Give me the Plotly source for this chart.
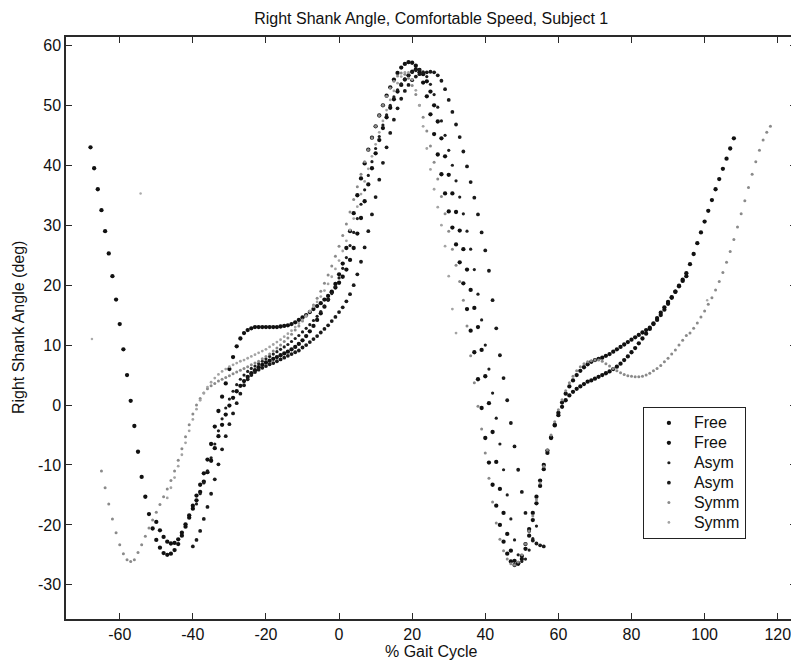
import plotly.graph_objects as go

# ---- data (x = % gait cycle, sampled every 1 %; y = right shank angle, deg) ----
FREE1_X0 = -68
FREE1_Y = [43, 39.5, 36, 32.5, 29, 25.3, 21.5, 17.6, 13.5, 9.3, 5, 0.7, -3.5, -7.8, -12, -15.3, -18.2, -20.6,
           -22.5, -23.8, -24.7, -25, -24.8, -24.2, -23.2,
           -21.8, -20.3, -18.8, -17.3, -15.9, -14.5, -12.8, -11.2, -9.3, -7.2, -5.2, -3.3, -1.6, -0.1, 1.2, 2.3,
           3.2, 4, 4.7, 5.3, 5.8, 6.3, 6.7,
           7.1, 7.4, 7.7, 8, 8.3, 8.6, 8.9, 9.3, 9.7, 10.2, 10.8, 11.5, 12.3, 13.2, 14.2, 15.3, 16.4, 17.6, 18.8,
           20.2, 21.8, 23.6, 26.2, 29, 32, 35, 37.8, 40.3, 42.6, 44.6, 46.5, 48.3, 50, 51.6, 53, 54.3, 55.4, 56.3,
           56.9, 57.2,
           57.1, 56.6, 55.5, 53.8, 51.5, 48.5, 45.2, 41.8, 38.5, 35.3, 32.3, 29.6, 26.8, 23.8, 20.3, 16, 12.4, 8.8,
           4.3, -0.5, -5.5, -9.6, -13.3, -16.8, -20, -22.8, -24.8, -26.1, -26.7, -26.4,
           -25.2, -23.2, -20.7, -18, -15.3, -12.6, -10, -7.6, -5.4, -3.4, -1.7, -0.3, 0.8, 1.6, 2.2, 2.7, 3.1, 3.5,
           3.9, 4.1, 4.4, 4.7, 5, 5.3, 5.6, 6, 6.4, 6.9, 7.5, 8.1, 8.8, 9.5, 10.3, 11.1, 11.9, 12.7, 13.6, 14.5,
           15.4, 16.3, 17.2, 18, 18.9, 19.8, 20.7, 21.5]

FREE2_X0 = -50
FREE2_Y = [-19.5, -20.9, -22, -22.8, -23.1, -23, -22.4, -21.3, -19.9, -18.4, -16.8, -15.1, -13.3, -11.4, -9.1,
           -6.5, -3.6, -1, 1.4, 3.6, 6, 8, 9.8, 11.1, 12, 12.5, 12.8, 13, 13, 13, 13, 13, 13, 13, 13.1, 13.2, 13.3,
           13.5, 13.8,
           14.2, 14.6, 15, 15.5, 16, 16.5, 17, 17.6, 18.2, 18.9, 19.6, 20.4, 21.4, 22.6, 24.2, 26.2, 28.6, 31.2,
           34, 36.8, 39.5, 42, 44.2, 46.2, 48, 49.6, 51, 52.3, 53.4, 54.3, 55, 55.6, 56, 55.9,
           55.2, 54, 52.3, 50, 47.3, 44.5, 41.5, 38.4, 35.3, 32.2, 29.1, 26, 22.6, 19.2, 16.2, 13, 9.2, 4.8, 0.3,
           -4.5, -9.5, -14, -18, -21.5, -24.3, -26, -26.5, -25.7,
           -24, -21.8, -19.2, -16.4, -13.5, -10.7, -8, -5.5, -3.3, -1.3, 0.4, 1.9, 3.1, 4.1, 5, 5.7, 6.3, 6.8, 7.2,
           7.5, 7.7, 7.9, 8.2, 8.5, 8.9, 9.3, 9.7, 10.1, 10.5, 10.9, 11.3, 11.7, 12.1, 12.5, 12.9, 13.5, 14.2, 15,
           15.9, 16.9, 17.9, 18.9, 19.9, 20.9, 22, 23.5, 25.2, 27, 28.8, 30.6, 32.4, 34.2, 36, 37.7, 39.4, 41.1,
           42.8, 44.5]

ASYM1_X0 = -39
ASYM1_Y = [-16.5, -14.8, -13, -11, -8.8, -6.5, -4.3, -2.3, -0.5, 1, 2.3, 3.4, 4.3, 5, 5.6, 6.1, 6.5, 6.9, 7.3,
           7.7, 8.1, 8.5, 8.9, 9.3, 9.7, 10.1, 10.6, 11.1, 11.6, 12.2, 12.8, 13.4, 14.1, 14.8, 15.6, 16.5, 17.5,
           18.6, 19.8, 21.2, 22.8, 24.6, 26.6, 28.8, 31.1, 33.5, 35.9, 38.3, 40.6, 42.8, 44.8, 46.7, 48.4, 50,
           51.4, 52.6, 53.6, 54.4, 55, 55.5, 55.8, 55.9, 55.6, 54.8, 53.5, 51.8, 49.7, 47.4, 45, 42.5, 40, 37.4,
           34.7, 31.9, 29, 26, 22.6, 18.5, 14.2, 10, 6, 2, -2.2, -6.5, -10.8, -15, -19, -22.5, -25, -26.1, -25.7,
           -24.2, -22.3, -20.2]

ASYM2_X0 = -40
ASYM2_Y = [-23.6, -22.5, -21, -19, -17, -14.8, -12.4, -9.9, -7.4, -5.2, -3.2, -1.4, 0.3, 1.9, 3.3, 4.3, 5, 5.5,
           5.9, 6.2, 6.5, 6.8, 7, 7.3, 7.6, 7.9, 8.2, 8.5, 8.8, 9.1, 9.6, 10, 10.5, 11, 11.5, 12.1, 12.7, 13.3,
           14, 14.7, 15.5, 16.3, 17.3, 18.5, 20, 21.8, 23.9, 26.3, 29, 31.8, 34.7, 37.6, 40.4, 43, 45.4, 47.6,
           49.5, 51.1, 52.4, 53.4, 54.2, 54.8, 55.2, 55.4, 55.5, 55.6, 55.5, 55, 54.1, 52.7, 50.9, 48.9, 46.8,
           44.7, 42.3, 39.8, 37.2, 34.6, 31.8, 28.8, 25.8, 22.4, 17.5, 12.8, 8.3, 4.5, 0.8, -3, -6.9, -10.8,
           -14.5, -18, -21, -22.6, -23.1, -23.4, -23.6]

SYMM1_X0 = -65
SYMM1_Y = [-11, -13.8, -16.5, -19, -21.3, -23.3, -24.8, -25.8, -26.1, -25.8, -24.6, -23.3, -21.9, -20.5, -19.2,
           -17.9, -16.6, -15.3, -14, -12.6, -11, -9.2, -7.3, -5.3, -3.3, -1.5, 0, 1.1, 2, 2.7, 3.2, 3.6, 4, 4.3,
           4.6, 4.9, 5.2, 5.5, 5.8, 6.1, 6.4, 6.7, 7, 7.3, 7.7, 8.1, 8.5, 9, 9.5, 10, 10.6, 11.2, 11.8, 12.5, 13.2,
           14, 14.8, 15.7, 16.7, 17.8, 19, 20.3, 21.7, 23.2, 24.8, 26.5, 28.3, 30.2, 32.2, 34.3, 36.4, 38.5, 40.6,
           42.6, 44.6, 46.5, 48.3, 50, 51.5, 52.9, 54, 54.9, 55.4, 55.2, 54.5, 53.3, 51.8, 50, 48, 45.7, 43.2,
           40.5, 37.7, 34.8, 31.9, 29, 26, 23.3, 20.6, 17.5, 13.2, 8.2, 3.7, -0.2, -4, -8, -12.2, -16.2, -19.7,
           -22.4, -24.3, -25.7, -26.5, -26.7, -26.2, -25, -23.2, -21, -18.5, -15.8, -13, -10.2, -7.5, -5, -2.8,
           -0.8, 0.9, 2.4, 3.7, 4.8, 5.7, 6.4, 6.9, 7.2, 7.4, 7.5, 7.5, 7.3, 6.9, 6.5, 6.1, 5.7, 5.4, 5.1, 4.9,
           4.8, 4.7, 4.7, 4.8, 5, 5.3, 5.7, 6.1, 6.6, 7.2, 7.8, 8.5, 9.2, 10, 10.8, 11.6, 12, 12.8, 13.7, 14.7,
           15.7, 16.8, 17.9, 19.2, 20.6, 22.1, 23.8, 25.6, 27.6, 29.7, 31.9, 34.1, 36.3, 38.5, 40.6, 42.5, 44.2,
           45.5, 46.5]

SYMM2_X0 = -47
SYMM2_Y = [-15.5, -13.8, -12.1, -10.2, -8.3, -6.3, -4.3, -2.4, -0.7, 0.8, 2, 3, 3.8, 4.5, 5.1, 5.6, 6, 6.4, 6.7,
           7, 7.3, 7.5, 7.8, 8.1, 8.4, 8.7, 9, 9.3, 9.7, 10.1, 10.5, 10.9, 11.4, 11.9, 12.4, 13, 13.6, 14.2, 14.9,
           15.6, 16.4, 17.2, 18.1, 19.1, 20.2, 21.4, 22.7, 24.1, 25.7, 27.4, 29.2, 31.1, 33.1, 35.2, 37.3, 39.4,
           41.5, 43.5, 45.5, 47.4, 49.2, 50.9, 52.4, 53.7, 54.8, 55.5, 55.5, 54.3, 52.5, 50, 46.5, 42.8, 39.3,
           36, 33, 30, 26.5, 21.5, 16, 12]

STRAY_X = [-67.6, -54.3, 100.7]
STRAY_Y = [11, 35.3, 17.5]

X_TICKS = [-60, -40, -20, 0, 20, 40, 60, 80, 100, 120]
Y_TICKS = [-30, -20, -10, 0, 10, 20, 30, 40, 50, 60]

SERIES = [
    ("Free", FREE1_X0, FREE1_Y, "#111111", 4.3),
    ("Free", FREE2_X0, FREE2_Y, "#111111", 4.3),
    ("Asym", ASYM1_X0, ASYM1_Y, "#1e1e1e", 3.2),
    ("Asym", ASYM2_X0, ASYM2_Y, "#1a1a1a", 3.8),
    ("Symm", SYMM1_X0, SYMM1_Y, "#8a8a8a", 3.0),
    ("Symm", SYMM2_X0, SYMM2_Y, "#a3a3a3", 2.8),
]

FONT = "Liberation Sans, Arial, sans-serif"
TXT = "#111111"

fig = go.Figure()
for name, x0, ys, color, size in SERIES:
    xs = [x0 + i for i in range(len(ys))]
    fig.add_trace(go.Scatter(x=xs, y=ys, mode="markers",
                             name='<span style="font-size:16px">%s</span>' % name,
                             marker=dict(color=color, size=size, line=dict(width=0))))
fig.add_trace(go.Scatter(x=STRAY_X, y=STRAY_Y, mode="markers", showlegend=False,
                         marker=dict(color="#aaaaaa", size=2.5, line=dict(width=0))))

axis_common = dict(showgrid=False, zeroline=False, showline=True, linecolor="#2a2a2a", linewidth=1.5,
                   mirror="ticks", ticks="inside", ticklen=6, tickwidth=1, tickcolor="#2a2a2a",
                   tickfont=dict(family=FONT, size=16, color=TXT))

# page body has an 8px margin, so the figure is sized / offset to compensate
fig.update_layout(
    width=791, height=659,
    margin=dict(l=58, r=2.5, t=29, b=48),
    paper_bgcolor="white", plot_bgcolor="white",
    title=dict(text="Right Shank Angle, Comfortable Speed, Subject 1", x=0.535, xanchor="center",
               y=1 - 10 / 659, yanchor="middle", yref="container",
               font=dict(family=FONT, size=16, color=TXT)),
    xaxis=dict(range=[-74.7, 125], tickvals=X_TICKS, ticktext=[str(v) for v in X_TICKS], **axis_common),
    yaxis=dict(range=[-35.7, 61.4], tickvals=Y_TICKS, ticktext=[str(v) for v in Y_TICKS], **axis_common),
    legend=dict(x=0.79, y=0.3646, xanchor="left", yanchor="top", bgcolor="white",
                bordercolor="#222222", borderwidth=1.2, font=dict(family=FONT, size=13, color=TXT),
                tracegroupgap=0, itemsizing="trace", itemwidth=40),
    showlegend=True,
    annotations=[
        dict(text="% Gait Cycle", x=0.5, y=-0.0567, xref="paper", yref="paper", showarrow=False,
             xanchor="center", yanchor="middle", font=dict(family=FONT, size=16, color=TXT)),
        dict(text="Right Shank Angle (deg)", x=-0.0657, y=0.5, xref="paper", yref="paper", showarrow=False,
             textangle=-90, xanchor="center", yanchor="middle", font=dict(family=FONT, size=16, color=TXT)),
    ],
)

fig.write_html("out.html")
